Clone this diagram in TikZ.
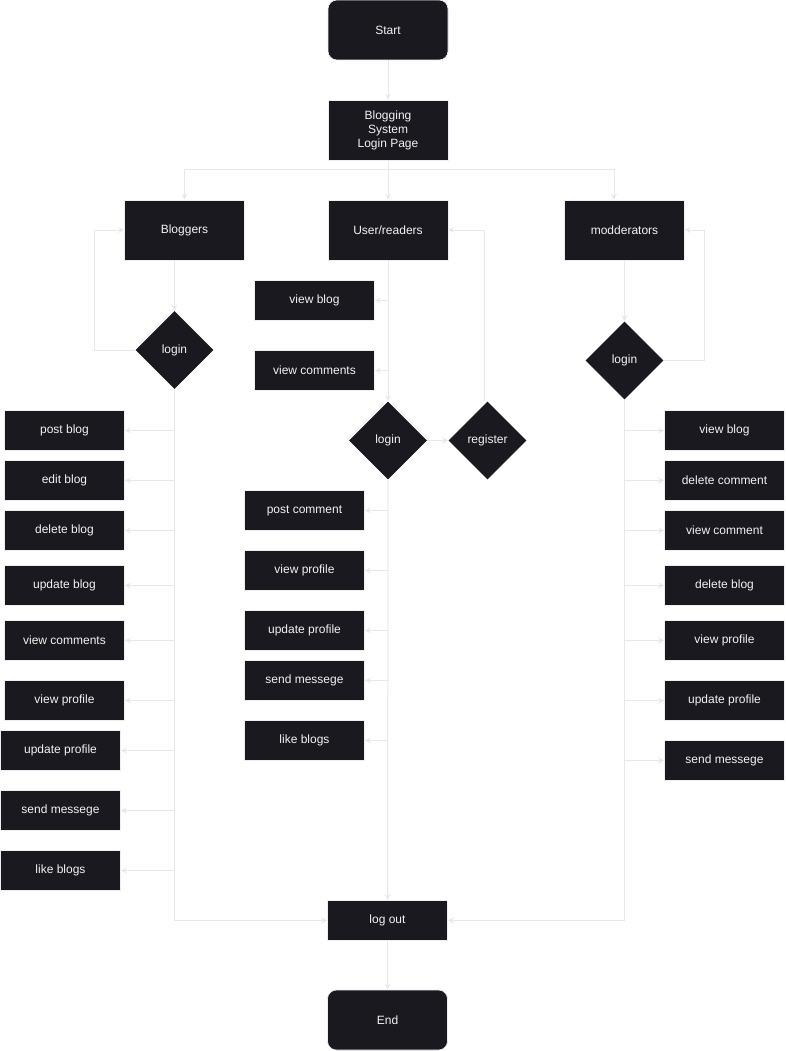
\documentclass[tikz,border=0pt]{standalone}
\usepackage{fontspec}
\setmainfont{Liberation Sans}
\usetikzlibrary{shapes.geometric,arrows.meta}

\definecolor{boxfill}{HTML}{1B1920}
\definecolor{boxedge}{HTML}{EEEEEE}
\definecolor{linkgray}{HTML}{E8E8E8}
\definecolor{labelwhite}{HTML}{F2F2F2}

\tikzset{
  base/.style={draw=boxedge, line width=0.6pt, fill=boxfill, text=labelwhite,
    font=\fontsize{12}{14}\selectfont, inner sep=0pt, align=center},
  tallbox/.style={base, rectangle, minimum width=120pt, minimum height=60pt},
  termbox/.style={tallbox, rounded corners=9pt},
  taskbox/.style={base, rectangle, minimum width=120pt, minimum height=40pt},
  choice/.style={base, diamond, aspect=1, minimum width=78pt, minimum height=78pt, draw=none},
  link/.style={draw=linkgray, line width=1pt, -{Stealth[length=6pt,width=6pt,inset=2pt]}},
  plain/.style={draw=linkgray, line width=1pt}
}

\begin{document}
\begin{tikzpicture}[x=1pt,y=-1pt]
\useasboundingbox (0,0) rectangle (785,1051);

% main flow
\node[termbox] (start) at (388,30) {Start};
\node[tallbox] (page)  at (388,130) {Blogging\\System\\Login Page};
\node[tallbox] (blog)  at (184.5,230) {Bloggers};
\node[tallbox] (user)  at (388,230) {User/readers};
\node[tallbox] (mod)   at (624.5,230) {modderators};

% login decisions
\node[choice] (dB)  at (174.5,350) {login};
\node[choice] (dU)  at (388,440.5) {login};
\node[choice] (reg) at (487.5,440.5) {register};
\node[choice] (dM)  at (624.5,360.5) {login};

% blogger actions
\node[taskbox] (b1) at (64.5,430.5) {post blog};
\node[taskbox] (b2) at (64.5,480.5) {edit blog};
\node[taskbox] (b3) at (64.5,530.5) {delete blog};
\node[taskbox] (b4) at (64.5,585.5) {update blog};
\node[taskbox] (b5) at (64.5,640.5) {view comments};
\node[taskbox] (b6) at (64.5,700.5) {view profile};
\node[taskbox] (b7) at (60.5,750.5) {update profile};
\node[taskbox] (b8) at (60.5,810.5) {send messege};
\node[taskbox] (b9) at (60.5,870.5) {like blogs};

% reader actions
\node[taskbox] (u1) at (314.5,300.5) {view blog};
\node[taskbox] (u2) at (314.5,370.5) {view comments};
\node[taskbox] (u3) at (304.5,510.5) {post comment};
\node[taskbox] (u4) at (304.5,570.5) {view profile};
\node[taskbox] (u5) at (304.5,630.5) {update profile};
\node[taskbox] (u6) at (304.5,680.5) {send messege};
\node[taskbox] (u7) at (304.5,740.5) {like blogs};

% moderator actions
\node[taskbox] (m1) at (724.5,430.5) {view blog};
\node[taskbox] (m2) at (724.5,480.5) {delete comment};
\node[taskbox] (m3) at (724.5,530.5) {view comment};
\node[taskbox] (m4) at (724.5,585.5) {delete blog};
\node[taskbox] (m5) at (724.5,640.5) {view profile};
\node[taskbox] (m6) at (724.5,700.5) {update profile};
\node[taskbox] (m7) at (724.5,760.5) {send messege};

% exit
\node[taskbox] (lo)  at (387.5,920.5) {log out};
\node[termbox] (end) at (387.5,1020) {End};

% helper points
\coordinate (split) at (388,170);
\coordinate (bl) at (94.5,350);
\coordinate (mr) at (704.5,360.5);

% top of the flow
\draw[link] (start) -- (page);
\draw[plain] (page.south) -- (split);
\draw[link] (split) -| (blog.north);
\draw[link] (split) -- (user.north);
\draw[link] (split) -| ([xshift=-10.5pt]mod.north);

% bloggers branch
\draw[link] (blog.south -| dB.north) -- (dB.north);
\draw[link] (dB.west) -- (bl) |- (blog.west);
\draw[link] (dB.south) |- (lo.west);
\foreach \t in {b1,b2,b3,b4,b5,b6,b7,b8,b9}
  \draw[link] (dB.south |- \t.east) -- (\t.east);

% readers branch
\draw[link] (user.south) -- (dU.north);
\foreach \t in {u1,u2}
  \draw[link] (user.south |- \t.east) -- (\t.east);
\draw[link] (dU.east) -- (reg.west);
\draw[link] ([xshift=-3pt]reg.north) |- (user.east);
\draw[link] (dU.south) -- (lo.north);
\foreach \t in {u3,u4,u5,u6,u7}
  \draw[link] (dU.south |- \t.east) -- (\t.east);

% moderators branch
\draw[link] (mod.south) -- (dM.north);
\draw[link] (dM.east) -- (mr) |- (mod.east);
\draw[link] (dM.south) |- (lo.east);
\foreach \t in {m1,m2,m3,m4,m5,m6,m7}
  \draw[link] (dM.south |- \t.west) -- (\t.west);

% finish
\draw[link] (lo.south) -- (end.north);
\end{tikzpicture}
\end{document}
